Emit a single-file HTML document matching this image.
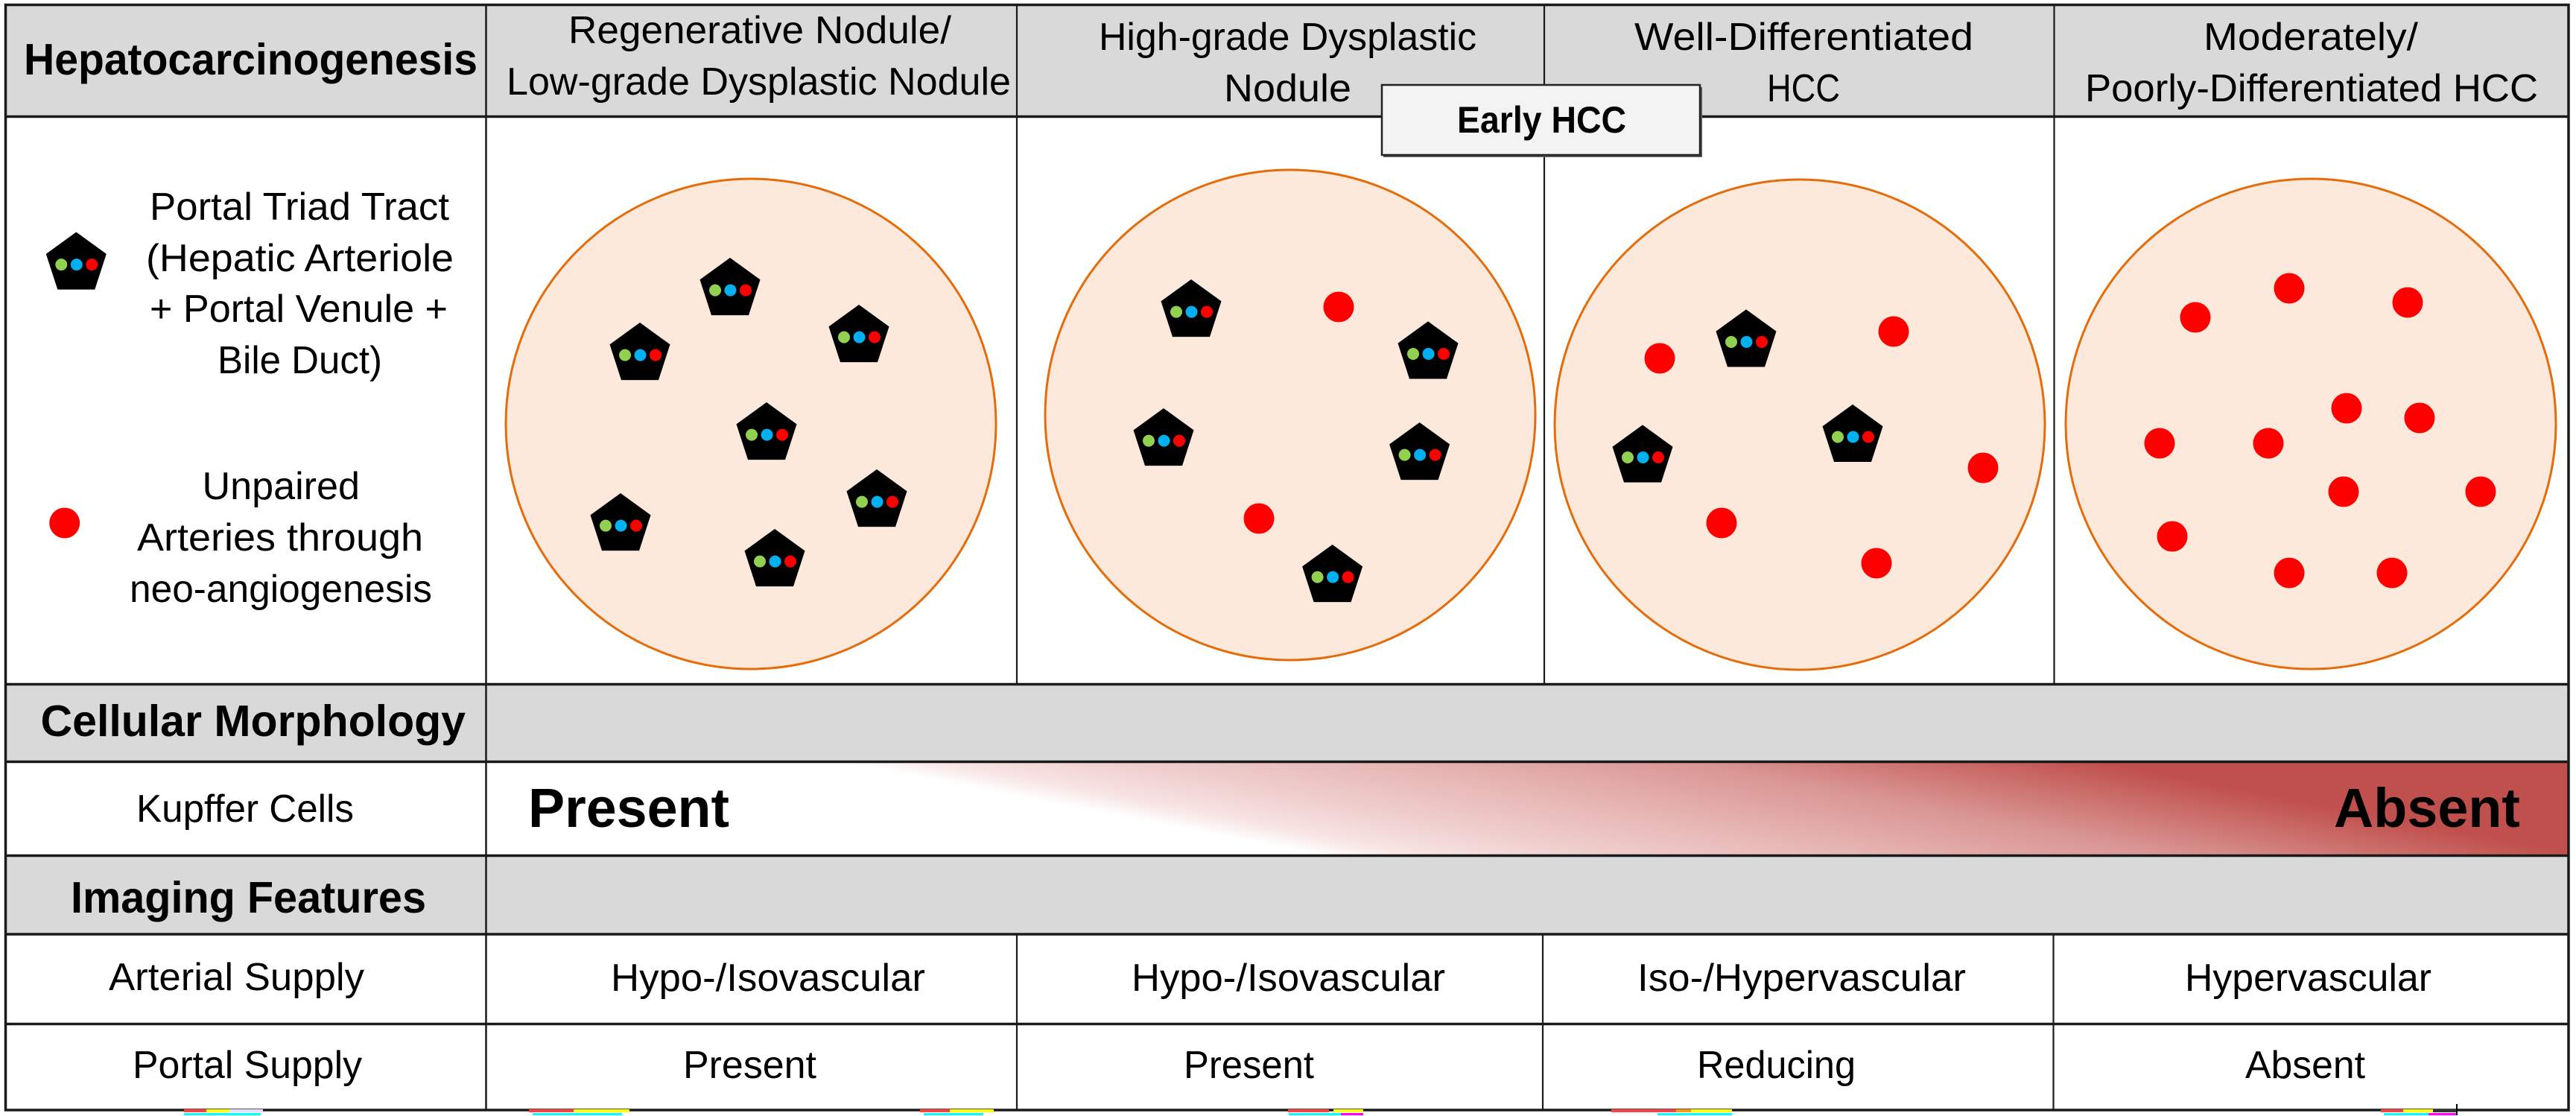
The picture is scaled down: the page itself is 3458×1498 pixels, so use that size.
<!DOCTYPE html>
<html>
<head>
<meta charset="utf-8">
<style>
  html,body{margin:0;padding:0;background:#fff;}
  body{width:3458px;height:1498px;overflow:hidden;}
  svg{display:block;}
  text{font-family:"Liberation Sans", Arial, sans-serif; fill:#000;}
  .r{font-size:52px;}
  .b{font-size:59px;font-weight:bold;}
</style>
</head>
<body>
<svg width="3458" height="1498" viewBox="0 0 3458 1498" xmlns="http://www.w3.org/2000/svg">
  <defs>
    <linearGradient id="kg" gradientUnits="userSpaceOnUse" x1="1470" y1="1089" x2="1531" y2="774">
      <stop offset="0" stop-color="#ffffff"/>
      <stop offset="0.08" stop-color="#f7e4e3"/>
      <stop offset="0.22" stop-color="#efcfce"/>
      <stop offset="0.45" stop-color="#e5b3b1"/>
      <stop offset="0.68" stop-color="#d99593"/>
      <stop offset="0.85" stop-color="#cc706d"/>
      <stop offset="1" stop-color="#c0504d"/>
    </linearGradient>
    <g id="pt">
      <polygon points="0,-42.6 40.5,-13.2 25,34.5 -25,34.5 -40.5,-13.2" fill="#000"/>
      <circle cx="-20" cy="1" r="8" fill="#92d050"/>
      <circle cx="0.5" cy="1" r="8" fill="#00b0f0"/>
      <circle cx="21" cy="1" r="8" fill="#ff0000"/>
    </g>
  </defs>

  <rect x="0" y="0" width="3458" height="1498" fill="#fff"/>

  <!-- gray fills -->
  <rect x="8" y="8" width="3440" height="148" fill="#d9d9d9"/>
  <rect x="8" y="920" width="3440" height="102" fill="#d9d9d9"/>
  <rect x="8" y="1150" width="3440" height="103" fill="#d9d9d9"/>

  <!-- Kupffer gradient -->
  <rect x="653" y="1024" width="2795" height="124" fill="url(#kg)"/>

  <!-- circles -->
  <g fill="#fce9dc" stroke="#e46c0a" stroke-width="3">
    <circle cx="1008" cy="569" r="329"/>
    <circle cx="1732" cy="557" r="329"/>
    <circle cx="2416" cy="570" r="329"/>
    <circle cx="3102" cy="569" r="329"/>
  </g>

  <!-- legend symbols -->
  <use href="#pt" x="102.3" y="354.1"/>
  <circle cx="86.7" cy="702" r="20.5" fill="#ff0000"/>

  <!-- circle 1 pentagons -->
  <use href="#pt" x="980" y="388.6"/>
  <use href="#pt" x="859" y="475.6"/>
  <use href="#pt" x="1153" y="451.6"/>
  <use href="#pt" x="1029" y="582.6"/>
  <use href="#pt" x="1177" y="672.6"/>
  <use href="#pt" x="833" y="704.6"/>
  <use href="#pt" x="1040" y="752.6"/>

  <!-- circle 2 -->
  <use href="#pt" x="1599" y="417.6"/>
  <use href="#pt" x="1917" y="474"/>
  <use href="#pt" x="1562" y="590.6"/>
  <use href="#pt" x="1905.6" y="609.6"/>
  <use href="#pt" x="1788.6" y="773.6"/>
  <g fill="#ff0000">
    <circle cx="1797" cy="412" r="20.5"/>
    <circle cx="1690" cy="696" r="20.5"/>
  </g>

  <!-- circle 3 -->
  <use href="#pt" x="2344" y="458"/>
  <use href="#pt" x="2487" y="585.5"/>
  <use href="#pt" x="2205" y="613"/>
  <g fill="#ff0000">
    <circle cx="2228" cy="481" r="20.5"/>
    <circle cx="2542" cy="445" r="20.5"/>
    <circle cx="2662" cy="628" r="20.5"/>
    <circle cx="2311" cy="702" r="20.5"/>
    <circle cx="2519" cy="756" r="20.5"/>
  </g>

  <!-- circle 4 -->
  <g fill="#ff0000">
    <circle cx="2947" cy="426" r="20.5"/>
    <circle cx="3073" cy="387" r="20.5"/>
    <circle cx="3232" cy="406" r="20.5"/>
    <circle cx="3150" cy="548" r="20.5"/>
    <circle cx="3248" cy="561" r="20.5"/>
    <circle cx="2899" cy="595" r="20.5"/>
    <circle cx="3045" cy="595" r="20.5"/>
    <circle cx="3146" cy="660" r="20.5"/>
    <circle cx="3330" cy="660" r="20.5"/>
    <circle cx="2916" cy="720" r="20.5"/>
    <circle cx="3073" cy="769" r="20.5"/>
    <circle cx="3211" cy="769" r="20.5"/>
  </g>

  <!-- table lines -->
  <g stroke="#1a1a1a" fill="none">
    <rect x="7.5" y="6.5" width="3440.5" height="1483.5" stroke-width="3.5"/>
    <line x1="6" y1="156.5" x2="3449" y2="156.5" stroke-width="3.5"/>
    <line x1="6" y1="918.5" x2="3449" y2="918.5" stroke-width="3.5"/>
    <line x1="6" y1="1022.5" x2="3449" y2="1022.5" stroke-width="3.5"/>
    <line x1="6" y1="1148.5" x2="3449" y2="1148.5" stroke-width="3.5"/>
    <line x1="6" y1="1254" x2="3449" y2="1254" stroke-width="3.5"/>
    <line x1="6" y1="1374.5" x2="3449" y2="1374.5" stroke-width="3.5"/>
    <line x1="652.5" y1="6" x2="652.5" y2="1490" stroke-width="2.5"/>
    <line x1="1365" y1="6" x2="1365" y2="918" stroke-width="2.2"/>
    <line x1="2073" y1="6" x2="2073" y2="918" stroke-width="2.2"/>
    <line x1="2757.5" y1="6" x2="2757.5" y2="918" stroke-width="2.2"/>
    <line x1="1365" y1="1254" x2="1365" y2="1490" stroke-width="2.2"/>
    <line x1="2071" y1="1254" x2="2071" y2="1490" stroke-width="2.2"/>
    <line x1="2756.5" y1="1254" x2="2756.5" y2="1490" stroke-width="2.2"/>
  </g>

  <!-- Early HCC box -->
  <rect x="1857" y="117" width="428" height="94" fill="#5a5a5a"/>
  <rect x="1855" y="114" width="427" height="94" fill="#f3f3f3" stroke="#222" stroke-width="2.5"/>
  <text class="b" style="font-size:50px" x="1956" y="178" textLength="227" lengthAdjust="spacingAndGlyphs">Early HCC</text>

  <!-- header texts -->
  <text class="b" x="32" y="100" textLength="609" lengthAdjust="spacingAndGlyphs">Hepatocarcinogenesis</text>
  <text class="r" x="763" y="58" textLength="514" lengthAdjust="spacingAndGlyphs">Regenerative Nodule/</text>
  <text class="r" x="680" y="127" textLength="677" lengthAdjust="spacingAndGlyphs">Low-grade Dysplastic Nodule</text>
  <text class="r" x="1475" y="67" textLength="507" lengthAdjust="spacingAndGlyphs">High-grade Dysplastic</text>
  <text class="r" x="1643" y="136" textLength="171" lengthAdjust="spacingAndGlyphs">Nodule</text>
  <text class="r" x="2194" y="67" textLength="455" lengthAdjust="spacingAndGlyphs">Well-Differentiated</text>
  <text class="r" x="2372" y="136" textLength="98" lengthAdjust="spacingAndGlyphs">HCC</text>
  <text class="r" x="2958" y="67" textLength="288" lengthAdjust="spacingAndGlyphs">Moderately/</text>
  <text class="r" x="2799" y="136" textLength="608" lengthAdjust="spacingAndGlyphs">Poorly-Differentiated HCC</text>

  <!-- legend texts -->
  <text class="r" x="201" y="295" textLength="402" lengthAdjust="spacingAndGlyphs">Portal Triad Tract</text>
  <text class="r" x="196" y="364" textLength="413" lengthAdjust="spacingAndGlyphs">(Hepatic Arteriole</text>
  <text class="r" x="201" y="432" textLength="400" lengthAdjust="spacingAndGlyphs">+ Portal Venule +</text>
  <text class="r" x="292" y="501" textLength="221" lengthAdjust="spacingAndGlyphs">Bile Duct)</text>
  <text class="r" x="271.5" y="670" textLength="211.5" lengthAdjust="spacingAndGlyphs">Unpaired</text>
  <text class="r" x="184" y="739" textLength="384" lengthAdjust="spacingAndGlyphs">Arteries through</text>
  <text class="r" x="174" y="808" textLength="406" lengthAdjust="spacingAndGlyphs">neo-angiogenesis</text>

  <!-- lower section -->
  <text class="b" x="54.5" y="988" textLength="570.5" lengthAdjust="spacingAndGlyphs">Cellular Morphology</text>
  <text class="r" x="183" y="1103" textLength="292" lengthAdjust="spacingAndGlyphs">Kupffer Cells</text>
  <text class="b" style="font-size:74px" x="709" y="1110" textLength="270" lengthAdjust="spacingAndGlyphs">Present</text>
  <text class="b" style="font-size:74px" x="3133" y="1110" textLength="250" lengthAdjust="spacingAndGlyphs">Absent</text>
  <text class="b" x="95" y="1225" textLength="477" lengthAdjust="spacingAndGlyphs">Imaging Features</text>

  <text class="r" x="146" y="1329" textLength="343" lengthAdjust="spacingAndGlyphs">Arterial Supply</text>
  <text class="r" x="820" y="1330" textLength="422" lengthAdjust="spacingAndGlyphs">Hypo-/Isovascular</text>
  <text class="r" x="1519" y="1330" textLength="421" lengthAdjust="spacingAndGlyphs">Hypo-/Isovascular</text>
  <text class="r" x="2198" y="1330" textLength="441" lengthAdjust="spacingAndGlyphs">Iso-/Hypervascular</text>
  <text class="r" x="2933" y="1330" textLength="331" lengthAdjust="spacingAndGlyphs">Hypervascular</text>

  <text class="r" x="178" y="1447" textLength="308" lengthAdjust="spacingAndGlyphs">Portal Supply</text>
  <text class="r" x="917" y="1447" textLength="179" lengthAdjust="spacingAndGlyphs">Present</text>
  <text class="r" x="1589" y="1447" textLength="175" lengthAdjust="spacingAndGlyphs">Present</text>
  <text class="r" x="2278" y="1447" textLength="213" lengthAdjust="spacingAndGlyphs">Reducing</text>
  <text class="r" x="3014" y="1447" textLength="161" lengthAdjust="spacingAndGlyphs">Absent</text>

  <!-- bottom edge artifacts -->
  <g>
    <rect x="247" y="1489" width="30" height="4" fill="#ff4040"/>
    <rect x="277" y="1489" width="31" height="4" fill="#ffff00"/>
    <rect x="308" y="1489" width="45" height="4" fill="#e0e0ff"/>
    <rect x="247" y="1494" width="103" height="3" fill="#00ffff"/>
    <rect x="710" y="1489" width="60" height="4" fill="#ff4040"/>
    <rect x="770" y="1489" width="75" height="4" fill="#ffff00"/>
    <rect x="715" y="1494" width="120" height="3" fill="#00ffff"/>
    <rect x="1235" y="1489" width="40" height="4" fill="#ff4040"/>
    <rect x="1275" y="1489" width="59" height="4" fill="#ffff00"/>
    <rect x="1240" y="1494" width="80" height="3" fill="#00ffff"/>
    <rect x="1729" y="1489" width="55" height="4" fill="#ff4040"/>
    <rect x="1790" y="1489" width="40" height="4" fill="#ffff00"/>
    <rect x="1730" y="1494" width="70" height="3" fill="#00ffff"/>
    <rect x="1800" y="1494" width="30" height="3" fill="#ff00ff"/>
    <rect x="2163" y="1489" width="87" height="4" fill="#ff4040"/>
    <rect x="2250" y="1489" width="20" height="4" fill="#ff9900"/>
    <rect x="2270" y="1489" width="55" height="4" fill="#ffff00"/>
    <rect x="2225" y="1494" width="100" height="3" fill="#00ffff"/>
    <rect x="3196" y="1489" width="30" height="4" fill="#ff4040"/>
    <rect x="3226" y="1489" width="40" height="4" fill="#ffff00"/>
    <rect x="3266" y="1489" width="32" height="4" fill="#333"/>
    <rect x="3200" y="1494" width="60" height="3" fill="#00ffff"/>
    <rect x="3260" y="1494" width="38" height="3" fill="#ff00ff"/>
    <rect x="3297" y="1482" width="2" height="15" fill="#000"/>
  </g>
</svg>
</body>
</html>
